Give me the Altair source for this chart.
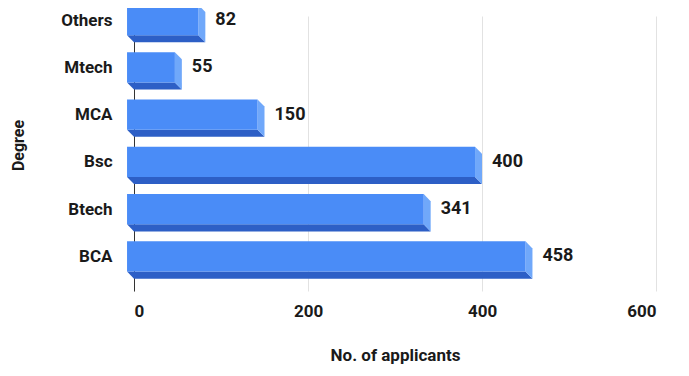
import altair as alt
import pandas as pd

# ---- data ----
categories = ["BCA", "Btech", "Bsc", "MCA", "Mtech", "Others"]   # bottom -> top
applicants = [458, 341, 400, 150, 55, 82]
x_ticks = [0, 200, 400, 600]

# ---- style constants (3D bar look) ----
DX = 8.0     # depth in x data units (~7px)
DY = 0.15    # depth in row units (~7px)
HH = 0.32    # half height of front face in row units

rows = list(range(len(categories)))
front = pd.DataFrame({"cat": categories, "v": applicants, "r": rows})

bottom_pts = []
side_pts = []
for c, v, r in zip(categories, applicants, rows):
    bottom_pts.append({"cat": c, "y": r - HH, "x": -DX, "x2": v - DX})
    bottom_pts.append({"cat": c, "y": r - HH - DY, "x": 0.0, "x2": float(v)})
    side_pts.append({"cat": c, "x": v - DX, "y": r - HH, "y2": r + HH})
    side_pts.append({"cat": c, "x": float(v), "y": r - HH - DY, "y2": r + HH - DY})
bottom = pd.DataFrame(bottom_pts)
side = pd.DataFrame(side_pts)

FONT = "Roboto"
TXT = "#1a1a1a"
label_expr = "[" + ",".join("'%s'" % c for c in categories) + "][datum.value]"

xscale = alt.Scale(domain=[0, 600], nice=False, zero=False)
yscale = alt.Scale(domain=[-0.73, 5.085], nice=False, zero=False)

x_axis = alt.Axis(
    values=x_ticks, grid=True, gridColor="#e2e2e2", domain=False, ticks=False,
    labelFont=FONT, labelFontWeight="bold", labelFontSize=17, labelColor=TXT,
    labelPadding=12, title="No. of applicants", titleFont=FONT, titleFontSize=17,
    titleFontWeight="bold", titleColor=TXT, titlePadding=28,
)
y_axis = alt.Axis(
    values=rows, labelExpr=label_expr, grid=False, ticks=False,
    domain=True, domainColor="#333333", domainWidth=1,
    labelFont=FONT, labelFontWeight="bold", labelFontSize=17, labelColor=TXT,
    labelPadding=22, title="Degree", titleFont=FONT, titleFontSize=16,
    titleFontWeight="bold", titleColor=TXT,
    titleAngle=270, titleX=-116, titleY=129, titleAlign="center", titleBaseline="middle",
)

bottom_layer = alt.Chart(bottom).mark_area(orient="horizontal", color="#2d5fc6").encode(
    y=alt.Y("y:Q", scale=yscale, axis=y_axis),
    x=alt.X("x:Q", scale=xscale, axis=x_axis),
    x2="x2:Q",
    detail="cat:N",
)

side_layer = alt.Chart(side).mark_area(orient="vertical", color="#70a8fa").encode(
    x=alt.X("x:Q", scale=xscale),
    y=alt.Y("y:Q", scale=yscale),
    y2="y2:Q",
    detail="cat:N",
)

front_layer = alt.Chart(front).transform_calculate(
    x1=f"{-DX}", x2=f"datum.v - {DX}", y1=f"datum.r - {HH}", y2=f"datum.r + {HH}"
).mark_rect(color="#4a8cf7").encode(
    x=alt.X("x1:Q", scale=xscale),
    x2="x2:Q",
    y=alt.Y("y1:Q", scale=yscale),
    y2="y2:Q",
)

text_layer = alt.Chart(front).mark_text(
    align="left", baseline="middle", dx=10, font=FONT, fontSize=18,
    fontWeight="bold", color=TXT,
).encode(
    x=alt.X("v:Q", scale=xscale),
    y=alt.Y("r:Q", scale=yscale),
    text="v:Q",
)

chart = alt.layer(bottom_layer, side_layer, front_layer, text_layer).properties(
    width=522, height=275,
    autosize=alt.AutoSizeParams(type="none"),
    padding={"left": 126, "top": 8, "right": 25, "bottom": 77},
    background="white",
).configure_view(strokeWidth=0)

chart.save("out.html", embed_options={"renderer": "svg", "actions": False})
